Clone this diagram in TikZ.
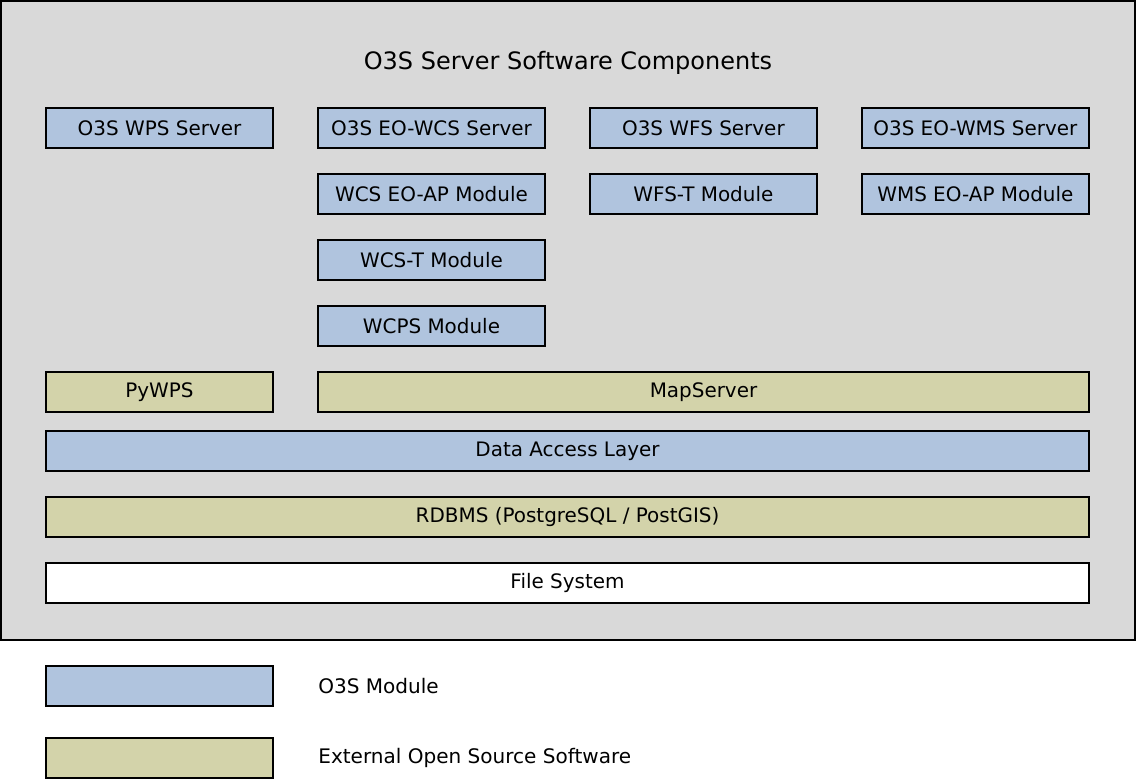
\documentclass[tikz,border=0pt]{standalone}
\usepackage{fontspec}
\setmainfont{DejaVu Sans}
\usetikzlibrary{positioning}
\definecolor{o3sblue}{HTML}{B0C4DE}
\definecolor{extolive}{HTML}{D3D3AA}
\definecolor{framegray}{HTML}{D9D9D9}

\begin{document}
\begin{tikzpicture}[
    x=0.02cm, y=-0.02cm,
    node distance=0.52cm and 0.9cm,
    comp/.style={draw,line width=0.9pt,outer sep=0pt,minimum width=4.54cm,minimum height=0.8cm,inner sep=0pt,font=\fontsize{11.35}{13}\selectfont},
    o3s/.style={comp,fill=o3sblue},
    ext/.style={comp,fill=extolive},
    legend/.style={anchor=west,inner sep=0pt,font=\fontsize{11.4}{13}\selectfont}
    ]

    \useasboundingbox (0,0) rectangle (1136,779);
    \draw[line width=0.9pt,fill=framegray] (1,1) rectangle (1135,640);
    \node[font=\fontsize{13.65}{16}\selectfont] (title) at (568,63) {O3S Server Software Components};

    % servers
    \node[o3s] (wps) at (159.5,128) {O3S WPS Server};
    \node[o3s, right=of wps] (wcs) {O3S EO-WCS Server};
    \node[o3s, right=of wcs] (wfs) {O3S WFS Server};
    \node[o3s, right=of wfs] (wms) {O3S EO-WMS Server};

    % modules
    \node[o3s, below=of wcs] (wcseoap) {WCS EO-AP Module};
    \node[o3s, below=of wfs] (wfst) {WFS-T Module};
    \node[o3s, below=of wms] (wmseoap) {WMS EO-AP Module};
    \node[o3s, below=of wcseoap] (wcst) {WCS-T Module};
    \node[o3s, below=of wcst] (wcps) {WCPS Module};

    % layers
    \node[ext] (pywps) at (159.5,392) {PyWPS};
    \node[ext, minimum width=15.42cm] (mapserver) at (703.5,392) {MapServer};
    \node[o3s, minimum width=20.86cm] (dal) at (567.5,451) {Data Access Layer};
    \node[ext, minimum width=20.86cm, below=of dal] (rdbms) {RDBMS (PostgreSQL / PostGIS)};
    \node[comp, fill=white, minimum width=20.86cm, below=of rdbms] (fs) {File System};

    % legend
    \node[o3s] (keyo3s) at (159.5,686) {};
    \node[ext] (keyext) at (159.5,758) {};
    \node[legend] (labo3s) at (318,686) {O3S Module};
    \node[legend] (labext) at (318,758) {External Open Source Software};
  \end{tikzpicture}
\end{document}
